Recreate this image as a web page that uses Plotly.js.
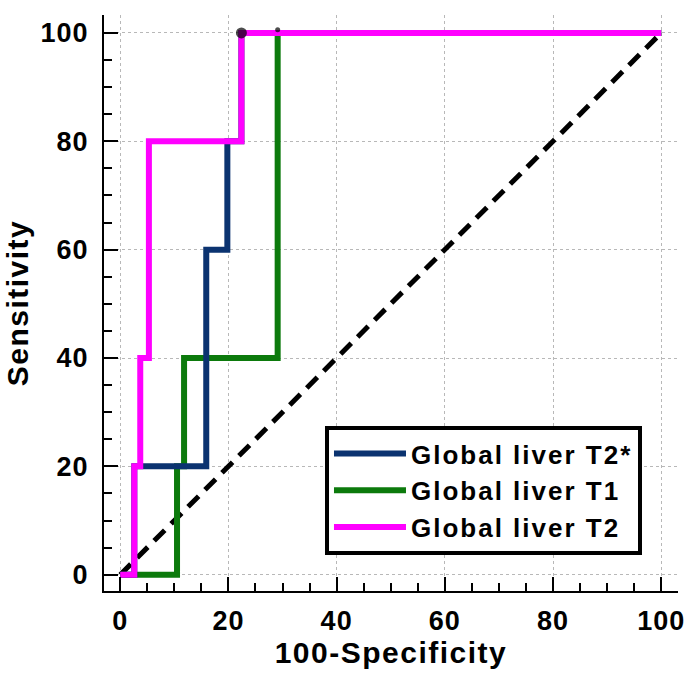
<!DOCTYPE html>
<html>
<head>
<meta charset="utf-8">
<script src="https://cdn.plot.ly/plotly-3.0.1.min.js"></script>
<style>
  html, body { margin: 0; padding: 0; background: #ffffff; }
  #chart { width: 686px; height: 675px; }
  .xtitle, .ytitle { letter-spacing: 1.5px; }
  .xtick text, .ytick text { letter-spacing: 1px; }
  .legendtext { letter-spacing: 2px; }
</style>
</head>
<body>
<div id="chart"></div>
<script>
// ROC points (100-Specificity, Sensitivity), drawn as steps
const seriesNames = ["Global liver T2*", "Global liver T1", "Global liver T2"];
const t2starX = [0, 2.6, 15.9, 19.8, 22.4, 100];
const t2starY = [0, 20, 60, 80, 100, 100];
const t1X = [0, 10.5, 11.8, 29.1, 100];
const t1Y = [0, 20, 40, 100, 100];
const t2X = [0, 2.6, 3.7, 5.3, 22.4, 100];
const t2Y = [0, 20, 40, 80, 100, 100];
const refX = [0, 100];
const refY = [0, 100];
const criterionX = [22.4, 29.1];
const criterionY = [100, 100.6];
const criterionSize = [11, 5];
const tickVals = [0, 20, 40, 60, 80, 100];
const tickText = ["0", "20", "40", "60", "80", "100"];

const FONT = "Liberation Sans, Arial, sans-serif";

const traces = [
  { x: refX, y: refY, type: "scatter", mode: "lines", showlegend: false,
    line: { color: "#000000", width: 5, dash: "15px,9px" }, hoverinfo: "skip" },
  { x: t1X, y: t1Y, name: seriesNames[1], legendrank: 2, type: "scatter", mode: "lines",
    line: { color: "#0c7a0c", width: 6, shape: "hv" } },
  { x: t2starX, y: t2starY, name: seriesNames[0], legendrank: 1, type: "scatter", mode: "lines",
    line: { color: "#0b3370", width: 6, shape: "hv" } },
  { x: t2X, y: t2Y, name: seriesNames[2], legendrank: 3, type: "scatter", mode: "lines",
    line: { color: "#ff00ff", width: 6, shape: "hv" } },
  { x: criterionX, y: criterionY, type: "scatter", mode: "markers", showlegend: false,
    marker: { color: "#000000", size: criterionSize, line: { width: 0 } } }
];

const axisCommon = {
  tickmode: "array", tickvals: tickVals, ticktext: tickText,
  ticks: "inside", ticklen: 14, tickwidth: 2, tickcolor: "#000000",
  showline: true, linecolor: "#000000", linewidth: 2, mirror: false,
  showgrid: true, gridcolor: "#b8b8b8", gridwidth: 1, griddash: "dot",
  zeroline: false, fixedrange: true,
  minor: { ticks: "inside", dtick: 5, tick0: 0, ticklen: 8, tickwidth: 2, tickcolor: "#000000", showgrid: false },
  tickfont: { family: FONT, size: 27, color: "#000000", weight: "bold" }
};

const layout = {
  width: 686, height: 675,
  margin: { l: 104, r: 8, t: 15, b: 84 },
  paper_bgcolor: "#ffffff", plot_bgcolor: "#ffffff",
  showlegend: true,
  xaxis: Object.assign({}, axisCommon, {
    range: [-3, 103.1],
    ticklabelstandoff: 5,
    title: { text: "100-Specificity", standoff: 6,
      font: { family: FONT, size: 30, color: "#000000", weight: "bold" } }
  }),
  yaxis: Object.assign({}, axisCommon, {
    range: [-3, 103.3],
    ticklabelstandoff: 8,
    title: { text: "Sensitivity", standoff: 3,
      font: { family: FONT, size: 30, color: "#000000", weight: "bold" } }
  }),
  legend: {
    x: 0.385, y: 0.0625, xanchor: "left", yanchor: "bottom",
    bgcolor: "#ffffff", bordercolor: "#000000", borderwidth: 4,
    font: { family: FONT, size: 26, color: "#000000", weight: "bold" },
    itemwidth: 72,
    tracegroupgap: 0
  }
};

Plotly.newPlot("chart", traces, layout, { staticPlot: true, displayModeBar: false });
</script>
</body>
</html>
